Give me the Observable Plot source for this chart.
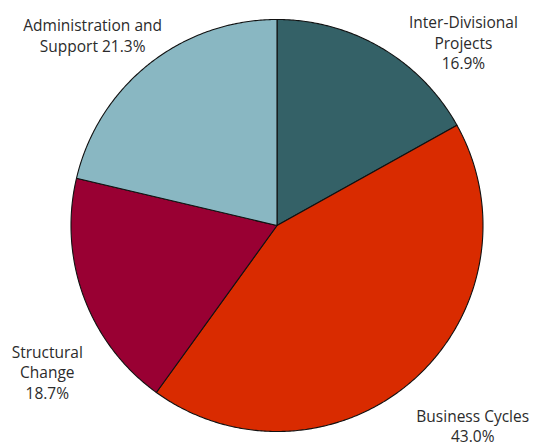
<!DOCTYPE html>
<html>
<head>
<meta charset="utf-8">
<script src="https://cdn.jsdelivr.net/npm/d3@7"></script>
<script src="https://cdn.jsdelivr.net/npm/@observablehq/plot@0.6"></script>
<style>
  html, body { margin: 0; padding: 0; background: #fff; }
</style>
</head>
<body>
<div id="chart"></div>
<script>
// ---- data ----
const categories = ["Inter-Divisional Projects", "Business Cycles", "Structural Change", "Administration and Support"];
const shares = [16.9, 43.0, 18.7, 21.3];
const labelTexts = ["Inter-Divisional\nProjects\n16.9%", "Business Cycles\n43.0%", "Structural\nChange\n18.7%", "Administration and\nSupport 21.3%"];
const colors = ["#346167", "#d92b00", "#990033", "#89b7c2"];

// ---- layout (label anchors, in pie-radius units) ----
const labelAnchors = [[0.905, 0.89], [0.95, -0.97], [-1.115, -0.71], [-0.895, 0.925]];

// ---- build slice polygons from the shares ----
const total = d3.sum(shares);
const polys = [];
let acc = 0;
categories.forEach((c, i) => {
  const a0 = acc / total * 2 * Math.PI;
  acc += shares[i];
  const a1 = acc / total * 2 * Math.PI;
  const n = Math.max(2, Math.ceil((a1 - a0) / (Math.PI / 360)));
  polys.push({cat: c, x: 0, y: 0, k: 0});
  for (let j = 0; j <= n; j++) {
    const a = a0 + (a1 - a0) * j / n;
    polys.push({cat: c, x: Math.sin(a), y: Math.cos(a), k: j + 1});
  }
  polys.push({cat: c, x: 0, y: 0, k: n + 2});
});

const labels = categories.map((c, i) => ({cat: c, text: labelTexts[i], x: labelAnchors[i][0], y: labelAnchors[i][1]}));

const W = 535, H = 448, R = 206, cx = 276.5, cy = 225;

const chart = Plot.plot({
  width: W,
  height: H,
  margin: 0,
  x: {domain: [-cx / R, (W - cx) / R], axis: null},
  y: {domain: [(cy - H) / R, cy / R], axis: null},
  color: {domain: categories, range: colors},
  style: {fontFamily: "'Open Sans', sans-serif", background: "#fff"},
  marks: [
    Plot.line(polys, {x: "x", y: "y", z: "cat", fill: "cat", stroke: "#111", strokeWidth: 1.1, strokeLinejoin: "round"}),
    Plot.text(labels, {x: "x", y: "y", text: "text", fill: "#2b2b2b", fontSize: 15.5, lineHeight: 1.33, textAnchor: "middle", lineAnchor: "middle"})
  ]
});
document.getElementById("chart").appendChild(chart);
</script>
</body>
</html>
